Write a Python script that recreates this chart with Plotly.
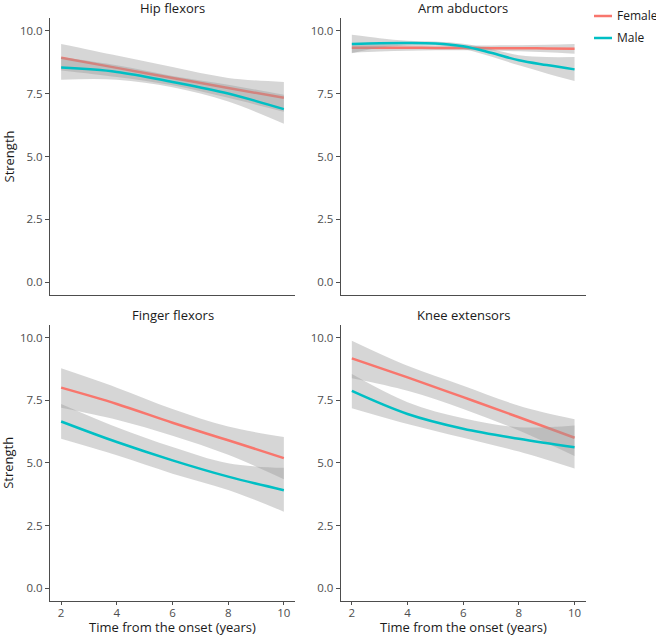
import plotly.graph_objects as go

# ---------------- data ----------------
panel_titles = ["Hip flexors", "Arm abductors", "Finger flexors", "Knee extensors"]
group_names = ["Female", "Male"]

hip_x = [2, 4, 6, 8, 10]
hip_f = [8.92, 8.52, 8.12, 7.72, 7.33]
hip_f_lo = [8.42, 8.16, 7.83, 7.33, 6.78]
hip_f_hi = [9.47, 9.01, 8.55, 8.12, 7.96]
hip_m = [8.53, 8.36, 7.96, 7.50, 6.88]
hip_m_lo = [8.05, 8.05, 7.75, 7.18, 6.30]
hip_m_hi = [8.95, 8.62, 8.20, 7.85, 7.45]

arm_x = [2, 3, 4, 5, 6, 7, 8, 9, 10]
arm_f = [9.32, 9.32, 9.32, 9.31, 9.31, 9.30, 9.30, 9.29, 9.28]
arm_f_lo = [9.12, 9.17, 9.20, 9.22, 9.22, 9.21, 9.18, 9.14, 9.08]
arm_f_hi = [9.48, 9.46, 9.44, 9.42, 9.41, 9.41, 9.42, 9.44, 9.47]
arm_m = [9.47, 9.50, 9.51, 9.49, 9.38, 9.12, 8.82, 8.63, 8.46]
arm_m_lo = [9.10, 9.32, 9.42, 9.43, 9.27, 8.97, 8.62, 8.30, 8.00]
arm_m_hi = [9.83, 9.70, 9.60, 9.57, 9.48, 9.27, 9.02, 8.95, 8.95]

fin_x = [2, 4, 6, 8, 10]
fin_f = [8.00, 7.35, 6.60, 5.90, 5.19]
fin_f_lo = [7.20, 6.72, 6.08, 5.32, 4.35]
fin_f_hi = [8.77, 8.00, 7.15, 6.45, 6.03]
fin_m = [6.65, 5.83, 5.10, 4.45, 3.91]
fin_m_lo = [5.96, 5.30, 4.57, 3.92, 3.05]
fin_m_hi = [7.35, 6.42, 5.63, 4.98, 4.80]

kne_x = [2, 4, 6, 8, 10]
kne_f = [9.17, 8.41, 7.62, 6.82, 6.00]
kne_f_lo = [8.38, 7.88, 7.15, 6.29, 5.27]
kne_f_hi = [9.87, 8.87, 8.08, 7.28, 6.74]
kne_m = [7.87, 6.95, 6.36, 5.96, 5.62]
kne_m_lo = [7.18, 6.55, 6.00, 5.45, 4.77]
kne_m_hi = [8.54, 7.42, 6.78, 6.42, 6.49]

y_tickvals = [0, 2.5, 5, 7.5, 10]
y_ticktext = ["0.0", "2.5", "5.0", "7.5", "10.0"]
x_tickvals = [2, 4, 6, 8, 10]
x_ticktext = ["2", "4", "6", "8", "10"]

panels = [
    (hip_x, [(hip_f, hip_f_lo, hip_f_hi), (hip_m, hip_m_lo, hip_m_hi)]),
    (arm_x, [(arm_f, arm_f_lo, arm_f_hi), (arm_m, arm_m_lo, arm_m_hi)]),
    (fin_x, [(fin_f, fin_f_lo, fin_f_hi), (fin_m, fin_m_lo, fin_m_hi)]),
    (kne_x, [(kne_f, kne_f_lo, kne_f_hi), (kne_m, kne_m_lo, kne_m_hi)]),
]

# ---------------- styling ----------------
W, H = 656, 636
FONT = "Open Sans"
colors = ["#F8766D", "#00BFC4"]
band_color = "rgba(153,153,153,0.4)"
axis_color = "#4d4d4d"
tick_font_color = "#4d4d4d"
title_color = "#1a1a1a"
TICK_SIZE = 11.5
TITLE_SIZE = 13

# panel boxes in pixels (left, right, top, bottom)
boxes = [
    (50, 295, 18, 295),
    (340.7, 585.7, 18, 295),
    (50, 295, 325, 600.7),
    (340.7, 585.7, 325, 600.7),
]

fig = go.Figure()

for i, (xs, groups) in enumerate(panels):
    ax = "" if i == 0 else str(i + 1)
    xref, yref = "x" + ax, "y" + ax
    for g, (mid, lo, hi) in enumerate(groups):
        fig.add_trace(go.Scatter(
            x=xs, y=lo, mode="lines", line=dict(width=0, shape="spline", color=band_color),
            showlegend=False, hoverinfo="skip", xaxis=xref, yaxis=yref))
        fig.add_trace(go.Scatter(
            x=xs, y=hi, mode="lines", line=dict(width=0, shape="spline", color=band_color),
            fill="tonexty", fillcolor=band_color,
            showlegend=False, hoverinfo="skip", xaxis=xref, yaxis=yref))
        fig.add_trace(go.Scatter(
            x=xs, y=mid, mode="lines", name=group_names[g],
            line=dict(width=2.5, shape="spline", color=colors[g]),
            showlegend=False, xaxis=xref, yaxis=yref))

layout = {}
annotations = []
shapes = []
for i, (l, r, t, b) in enumerate(boxes):
    ax = "" if i == 0 else str(i + 1)
    bottom = i >= 2
    left = i % 2 == 0
    layout["xaxis" + ax] = dict(
        domain=[l / W, r / W], anchor="y" + ax, range=[1.6, 10.4],
        automargin=False,
        showline=True, linecolor=axis_color, linewidth=1,
        showgrid=False, zeroline=False,
        ticks="outside" if bottom else "", ticklen=3, tickcolor=axis_color,
        ticklabelstandoff=-2,
        tickvals=x_tickvals, ticktext=x_ticktext, showticklabels=bottom,
        tickfont=dict(family=FONT, size=TICK_SIZE, color=tick_font_color),
    )
    layout["yaxis" + ax] = dict(
        domain=[1 - b / H, 1 - t / H], anchor="x" + ax, range=[-0.5, 10.5],
        automargin=False,
        showline=True, linecolor=axis_color, linewidth=1,
        showgrid=False, zeroline=False,
        ticks="outside", ticklen=4, tickcolor=axis_color,
        tickvals=y_tickvals, ticktext=y_ticktext,
        tickfont=dict(family=FONT, size=TICK_SIZE, color=tick_font_color),
    )
    # facet strip title
    annotations.append(dict(
        text=panel_titles[i], xref="paper", yref="paper",
        x=(l + r) / 2 / W, y=1 - (t - 10) / H, xanchor="center", yanchor="middle",
        showarrow=False, font=dict(family=FONT, size=TITLE_SIZE, color=title_color)))
    if bottom:
        annotations.append(dict(
            text="Time from the onset (years)", xref="paper", yref="paper",
            x=(l + r) / 2 / W, y=1 - 627 / H, xanchor="center", yanchor="middle",
            showarrow=False, font=dict(family=FONT, size=TITLE_SIZE, color=title_color)))
    if left:
        annotations.append(dict(
            text="Strength", xref="paper", yref="paper", textangle=-90,
            x=8 / W, y=1 - (t + b) / 2 / H, xanchor="center", yanchor="middle",
            showarrow=False, font=dict(family=FONT, size=TITLE_SIZE, color=title_color)))

# legend (key lines + labels)
legend_rows = [16, 38]
for g, name in enumerate(group_names):
    yy = 1 - legend_rows[g] / H
    shapes.append(dict(type="line", xref="paper", yref="paper",
                       x0=594 / W, x1=612 / W, y0=yy, y1=yy,
                       line=dict(color=colors[g], width=2.5)))
    annotations.append(dict(
        text=name, xref="paper", yref="paper", x=615 / W, y=yy,
        xanchor="left", yanchor="middle", showarrow=False,
        font=dict(family=FONT, size=12, color=title_color)))

fig.update_layout(
    width=W, height=H,
    margin=dict(l=0, r=0, t=0, b=0),
    paper_bgcolor="white", plot_bgcolor="white",
    font=dict(family=FONT, color=title_color),
    annotations=annotations, shapes=shapes,
    showlegend=False,
    **layout,
)

fig.write_html(
    "out.html",
    config={"displayModeBar": False},
    post_script="document.body.style.margin='0';document.body.style.padding='0';",
)
